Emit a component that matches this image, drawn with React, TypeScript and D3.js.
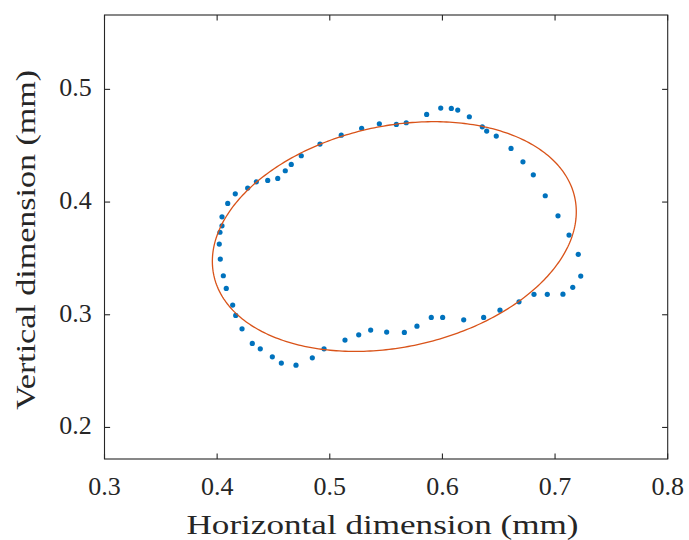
import React from "react";
import * as d3 from "d3";

// Measured points (mm)
const pointsX = [
  0.4019, 0.4025, 0.4043, 0.4043, 0.4094, 0.4161, 0.4271, 0.4348, 0.4449, 0.4538,
  0.4605, 0.4658, 0.4747, 0.4913, 0.5102, 0.5283, 0.5440, 0.5591, 0.5679, 0.5860,
  0.5985, 0.6079, 0.6136, 0.6239, 0.6354, 0.6393, 0.6478, 0.6609, 0.6715, 0.6807,
  0.6913, 0.7026, 0.7124, 0.7206, 0.7228, 0.7157, 0.7070, 0.6931, 0.6813, 0.6680,
  0.6511, 0.6366, 0.6189, 0.6002, 0.5901, 0.5774, 0.5662, 0.5505, 0.5363, 0.5257,
  0.5135, 0.4949, 0.4845, 0.4700, 0.4570, 0.4490, 0.4383, 0.4312, 0.4221, 0.4165,
  0.4138, 0.4081, 0.4055, 0.4028,
];
const pointsY = [
  0.3627, 0.3732, 0.3789, 0.3869, 0.3988, 0.4073, 0.4124, 0.4180, 0.4192, 0.4210,
  0.4278, 0.4334, 0.4411, 0.4515, 0.4594, 0.4654, 0.4695, 0.4689, 0.4704, 0.4778,
  0.4834, 0.4831, 0.4816, 0.4757, 0.4668, 0.4630, 0.4586, 0.4476, 0.4357, 0.4242,
  0.4056, 0.3878, 0.3707, 0.3536, 0.3343, 0.3243, 0.3183, 0.3181, 0.3181, 0.3115,
  0.3041, 0.2976, 0.2955, 0.2976, 0.2976, 0.2899, 0.2843, 0.2846, 0.2864, 0.2822,
  0.2775, 0.2698, 0.2618, 0.2553, 0.2571, 0.2627, 0.2698, 0.2746, 0.2875, 0.2994,
  0.3086, 0.3234, 0.3346, 0.3494,
];

// Fitted ellipse parameters (mm, degrees)
const ellipseCenter = [0.5573, 0.3694];
const ellipseSemiAxes = [0.1639, 0.0981];
const ellipseAngleDeg = 12.17;

const xTicks = [0.3, 0.4, 0.5, 0.6, 0.7, 0.8];
const yTicks = [0.2, 0.3, 0.4, 0.5];
const xDomain = [0.3, 0.8];
const yDomain = [0.172, 0.566];

const W = 689;
const H = 540;
const M = { left: 104.5, right: 667.7, top: 15, bottom: 459 };

export default function App() {
  const x = d3.scaleLinear().domain(xDomain).range([M.left, M.right]);
  const y = d3.scaleLinear().domain(yDomain).range([M.bottom, M.top]);

  const th = (ellipseAngleDeg * Math.PI) / 180;
  const [a, b] = ellipseSemiAxes;
  const [cx, cy] = ellipseCenter;
  const ts = d3.range(0, 361, 1).map((d) => (d * Math.PI) / 180);
  const ellipsePts: [number, number][] = ts.map((t) => [
    cx + a * Math.cos(th) * Math.cos(t) - b * Math.sin(th) * Math.sin(t),
    cy + a * Math.sin(th) * Math.cos(t) + b * Math.cos(th) * Math.sin(t),
  ]);
  const line = d3
    .line<[number, number]>()
    .x((d) => x(d[0]))
    .y((d) => y(d[1]));

  const font = "Liberation Serif";
  const axisColor = "#262626";
  const tickLen = 5.6;

  return (
    <svg
      width={W}
      height={H}
      style={{ position: "absolute", left: 0, top: 0, background: "#fff" }}
    >
      <rect x={0} y={0} width={W} height={H} fill="#fff" />
      {pointsX.map((px, i) => (
        <circle key={i} cx={x(px)} cy={y(pointsY[i])} r={2.6} fill="#0072BD" />
      ))}
      <path d={line(ellipsePts) || ""} fill="none" stroke="#D95319" strokeWidth={1.3} />

      {/* box */}
      <rect
        x={M.left}
        y={M.top}
        width={M.right - M.left}
        height={M.bottom - M.top}
        fill="none"
        stroke={axisColor}
        strokeWidth={1.1}
      />
      {xTicks.map((t) => (
        <g key={"x" + t}>
          <line x1={x(t)} x2={x(t)} y1={M.bottom} y2={M.bottom - tickLen} stroke={axisColor} strokeWidth={1.1} />
          <line x1={x(t)} x2={x(t)} y1={M.top} y2={M.top + tickLen} stroke={axisColor} strokeWidth={1.1} />
          <text x={x(t)} y={495} textAnchor="middle" style={{ fontFamily: font }} fontSize={26} fill={axisColor}>
            {t.toFixed(1)}
          </text>
        </g>
      ))}
      {yTicks.map((t) => (
        <g key={"y" + t}>
          <line x1={M.left} x2={M.left + tickLen} y1={y(t)} y2={y(t)} stroke={axisColor} strokeWidth={1.1} />
          <line x1={M.right} x2={M.right - tickLen} y1={y(t)} y2={y(t)} stroke={axisColor} strokeWidth={1.1} />
          <text x={91.7} y={y(t) + 7} textAnchor="end" style={{ fontFamily: font }} fontSize={26} fill={axisColor}>
            {t.toFixed(1)}
          </text>
        </g>
      ))}
      <text
        x={382.5}
        y={534}
        textAnchor="middle"
        style={{ fontFamily: font }}
        fontSize={26.5}
        fill={axisColor}
        textLength={392}
        lengthAdjust="spacingAndGlyphs"
      >
        Horizontal dimension (mm)
      </text>
      <text
        transform={`translate(35,${(M.top + M.bottom) / 2 + 3}) rotate(-90)`}
        textAnchor="middle"
        style={{ fontFamily: font }}
        fontSize={26.5}
        fill={axisColor}
        textLength={340}
        lengthAdjust="spacingAndGlyphs"
      >
        Vertical dimension (mm)
      </text>
    </svg>
  );
}
